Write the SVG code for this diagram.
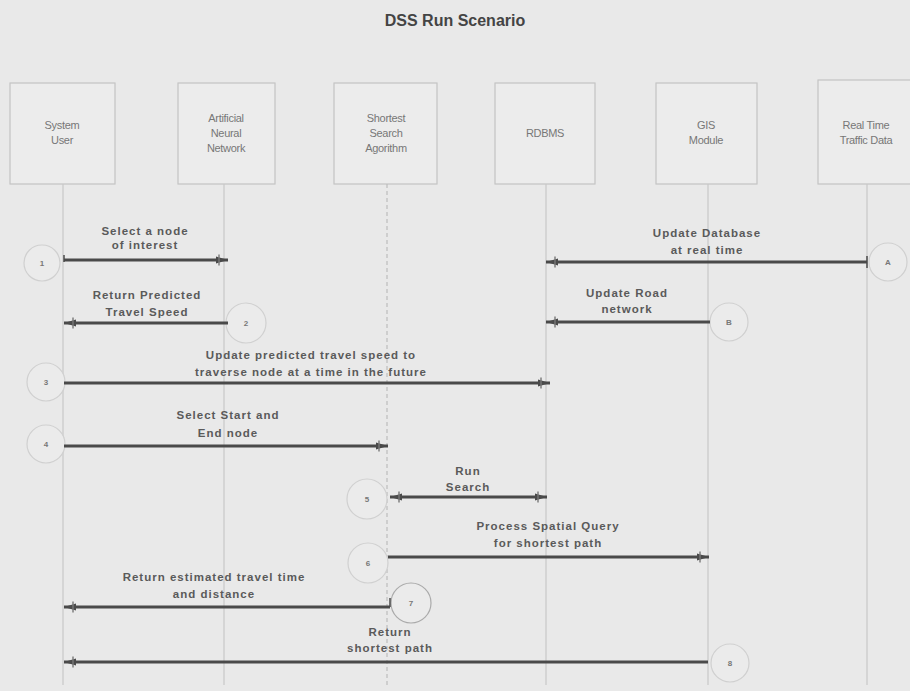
<svg xmlns="http://www.w3.org/2000/svg" width="910" height="691" viewBox="0 0 910 691">
  <style>
    .title { font-family: "Liberation Sans", Arial, sans-serif; font-size: 16px; font-weight: bold; fill: #444; text-anchor: middle; }
    .box { fill: #ececec; stroke: #c4c4c4; stroke-width: 1.2; }
    .blabel { font-family: "Liberation Sans", Arial, sans-serif; font-size: 11px; fill: #777; text-anchor: middle; letter-spacing: -0.3px; }
    .life { stroke: #c8c8c8; stroke-width: 1.2; fill: none; }
    .life.dash { stroke-dasharray: 4 3; stroke: #bdbdbd; }
    .msg { stroke: #4a4a4a; stroke-width: 3; fill: none; }
    .tick { stroke: #4a4a4a; stroke-width: 1.5; fill: none; }
    .mlabel { font-family: "Liberation Sans", Arial, sans-serif; font-size: 11.5px; font-weight: bold; fill: #5a5a5a; text-anchor: middle; letter-spacing: 1px; }
    .step { fill: #ebebeb; stroke: #d0d0d0; stroke-width: 1.2; }
    .step.dark { stroke: #aaa; }
    .snum { font-family: "Liberation Sans", Arial, sans-serif; font-size: 8px; font-weight: bold; fill: #777; text-anchor: middle; }
  </style>
  <defs>
    <marker id="head" viewBox="0 0 14 12" refX="13" refY="6" markerWidth="14" markerHeight="12" markerUnits="userSpaceOnUse" orient="auto-start-reverse">
      <path d="M1 2.5 L13 6 L1 9.5 Z" fill="#4a4a4a"/>
      <path d="M4 0.5 V11.5" stroke="#777" stroke-width="1.4"/>
    </marker>
  </defs>

  <rect width="910" height="691" fill="#e9e9e9"/>

  <text class="title" x="455" y="26">DSS Run Scenario</text>

  <!-- participants -->
  <g id="system-user">
    <rect class="box" x="10" y="83" width="105" height="101"/>
    <text class="blabel" x="62" y="129">System</text>
    <text class="blabel" x="62" y="144">User</text>
  </g>
  <g id="neural-network">
    <rect class="box" x="178" y="83" width="97" height="101"/>
    <text class="blabel" x="226" y="122">Artificial</text>
    <text class="blabel" x="226" y="137">Neural</text>
    <text class="blabel" x="226" y="152">Network</text>
  </g>
  <g id="search-algorithm">
    <rect class="box" x="334" y="83" width="103" height="101"/>
    <text class="blabel" x="386" y="122">Shortest</text>
    <text class="blabel" x="386" y="137">Search</text>
    <text class="blabel" x="386" y="152">Agorithm</text>
  </g>
  <g id="rdbms">
    <rect class="box" x="495" y="83" width="100" height="101"/>
    <text class="blabel" x="545" y="137">RDBMS</text>
  </g>
  <g id="gis-module">
    <rect class="box" x="656" y="83" width="101" height="101"/>
    <text class="blabel" x="706" y="129">GIS</text>
    <text class="blabel" x="706" y="144">Module</text>
  </g>
  <g id="traffic-data">
    <rect class="box" x="818" y="80" width="100" height="104"/>
    <text class="blabel" x="866" y="129">Real Time</text>
    <text class="blabel" x="866" y="144">Traffic Data</text>
  </g>

  <!-- lifelines -->
  <g id="lifelines">
    <line class="life" x1="63" y1="184" x2="63" y2="685"/>
    <line class="life" x1="224" y1="184" x2="224" y2="685"/>
    <line class="life dash" x1="387" y1="184" x2="387" y2="685"/>
    <line class="life" x1="546" y1="184" x2="546" y2="685"/>
    <line class="life" x1="708" y1="184" x2="708" y2="685"/>
    <line class="life" x1="867" y1="184" x2="867" y2="685"/>
  </g>

  <!-- step markers -->
  <g id="step-1"><circle class="step" cx="42" cy="263" r="18"/><text class="snum" x="42" y="266">1</text></g>
  <g id="step-2"><circle class="step" cx="246" cy="323" r="20"/><text class="snum" x="246" y="326">2</text></g>
  <g id="step-a"><circle class="step" cx="888" cy="262" r="19"/><text class="snum" x="888" y="265">A</text></g>
  <g id="step-b"><circle class="step" cx="729" cy="322" r="19"/><text class="snum" x="729" y="325">B</text></g>
  <g id="step-3"><circle class="step" cx="46" cy="382" r="19"/><text class="snum" x="46" y="385">3</text></g>
  <g id="step-4"><circle class="step" cx="46" cy="444" r="19"/><text class="snum" x="46" y="447">4</text></g>
  <g id="step-5"><circle class="step" cx="367" cy="499" r="20"/><text class="snum" x="367" y="502">5</text></g>
  <g id="step-6"><circle class="step" cx="368" cy="563" r="20"/><text class="snum" x="368" y="566">6</text></g>
  <g id="step-7"><circle class="step dark" cx="411" cy="603" r="20"/><text class="snum" x="411" y="606">7</text></g>
  <g id="step-8"><circle class="step" cx="730" cy="663" r="19"/><text class="snum" x="730" y="666">8</text></g>

  <!-- messages -->
  <g id="connectors">
    <path class="msg" d="M64 260 H228" marker-end="url(#head)"/>
    <path class="tick" d="M64 255 V262"/>
    <path class="msg" d="M228 323 H64" marker-end="url(#head)"/>
    <path class="msg" d="M867 262 H546" marker-end="url(#head)"/>
    <path class="tick" d="M867 256 V268"/>
    <path class="msg" d="M710 322 H546" marker-end="url(#head)"/>
    <path class="msg" d="M64 383 H550" marker-end="url(#head)"/>
    <path class="msg" d="M64 446 H388" marker-end="url(#head)"/>
    <path class="msg" d="M390 497 H547" marker-start="url(#head)" marker-end="url(#head)"/>
    <path class="msg" d="M388 557 H709" marker-end="url(#head)"/>
    <path class="msg" d="M390 607 H64" marker-end="url(#head)"/>
    <path class="tick" d="M390 598 V607"/>
    <path class="msg" d="M708 662 H64" marker-end="url(#head)"/>
  </g>

  <!-- message labels -->
  <g id="labels">
    <text class="mlabel" x="145" y="235">Select a node</text>
    <text class="mlabel" x="145" y="249">of interest</text>
    <text class="mlabel" x="147" y="299">Return Predicted</text>
    <text class="mlabel" x="147" y="316">Travel Speed</text>
    <text class="mlabel" x="707" y="237">Update Database</text>
    <text class="mlabel" x="707" y="254">at real time</text>
    <text class="mlabel" x="627" y="297">Update Road</text>
    <text class="mlabel" x="627" y="313">network</text>
    <text class="mlabel" x="311" y="359">Update predicted travel speed to</text>
    <text class="mlabel" x="311" y="376">traverse node at a time in the future</text>
    <text class="mlabel" x="228" y="419">Select Start and</text>
    <text class="mlabel" x="228" y="437">End node</text>
    <text class="mlabel" x="468" y="475">Run</text>
    <text class="mlabel" x="468" y="491">Search</text>
    <text class="mlabel" x="548" y="530">Process Spatial Query</text>
    <text class="mlabel" x="548" y="547">for shortest path</text>
    <text class="mlabel" x="214" y="581">Return estimated travel time</text>
    <text class="mlabel" x="214" y="598">and distance</text>
    <text class="mlabel" x="390" y="636">Return</text>
    <text class="mlabel" x="390" y="652">shortest path</text>
  </g>
</svg>
